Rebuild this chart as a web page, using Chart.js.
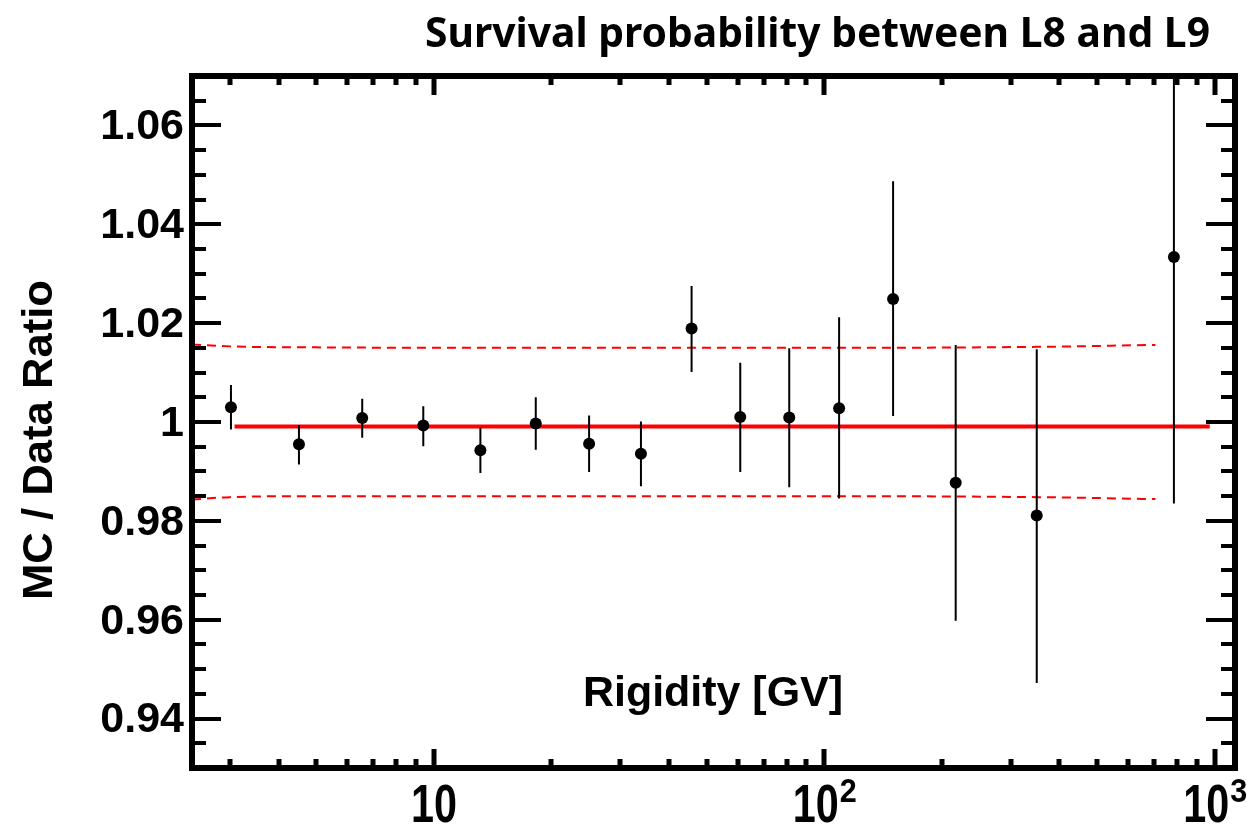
<!DOCTYPE html>
<html>
<head>
<meta charset="utf-8">
<script src="https://cdn.jsdelivr.net/npm/chart.js@4/dist/chart.umd.min.js"></script>
<style>
  html, body { margin: 0; padding: 0; background: #fff; }
  canvas { display: block; }
</style>
</head>
<body>
<canvas id="ratioChart" width="1247" height="831"></canvas>
<script>
// data
const rigidity = [3.02, 4.51, 6.55, 9.39, 13.15, 18.23, 24.97, 33.9, 45.7, 60.9, 81.3, 109.1, 150, 217, 350, 786];
const ratio    = [1.0030, 0.9955, 1.0008, 0.9993, 0.9943, 0.9997, 0.9956, 0.9936, 1.0189, 1.0010, 1.0009, 1.0028, 1.0249, 0.9877, 0.9811, 1.0334];
const errHigh  = [1.0075, 0.9994, 1.0047, 1.0032, 0.9989, 1.0050, 1.0013, 1.0001, 1.0275, 1.0120, 1.0149, 1.0212, 1.0487, 1.0156, 1.0147, 1.0833];
const errLow   = [0.9985, 0.9914, 0.9968, 0.9951, 0.9897, 0.9944, 0.9899, 0.9870, 1.0101, 0.9899, 0.9868, 0.9845, 1.0012, 0.9598, 0.9472, 0.9835];

// fit (solid) and +-1.5% band (dashed)
const fitX = [3.085, 971];
const fitY = [0.9991, 0.9991];
const bandX    = [2.4, 3.0, 5, 20, 100, 350, 705];
const bandHigh = [1.0157, 1.0153, 1.0151, 1.0150, 1.0150, 1.0152, 1.0156];
const bandLow  = [0.9843, 0.9848, 0.9850, 0.9850, 0.9850, 0.9848, 0.9844];

// axes
const xRange = [2.4, 1127];
const yRange = [0.93, 1.07];
const yTickValues = [0.94, 0.96, 0.98, 1, 1.02, 1.04, 1.06];
const yTickLabels = ['0.94', '0.96', '0.98', '1', '1.02', '1.04', '1.06'];
const xTickValues = [10, 100, 1000];
const xTickBase   = ['10', '10', '10'];
const xTickExp    = ['', '2', '3'];

const titleText = 'Survival probability between L8 and L9';
const xTitle = 'Rigidity [GV]';
const yTitle = 'MC / Data Ratio';

const pts = (xs, ys) => xs.map((x, i) => ({x: x, y: ys[i]}));

const errorSegments = [];
rigidity.forEach((x, i) => {
  errorSegments.push({x: x, y: errLow[i]});
  errorSegments.push({x: x, y: errHigh[i]});
  errorSegments.push({x: x, y: null});
});

const NARROW = '"Liberation Sans Narrow", "Liberation Sans", Arial, sans-serif';

// draw text squeezed/stretched to a given width
function fitText(ctx, text, x, y, font, width, align) {
  ctx.font = font;
  const w = ctx.measureText(text).width;
  ctx.save();
  ctx.translate(x, y);
  ctx.scale(width / w, 1);
  ctx.textAlign = align;
  ctx.textBaseline = 'alphabetic';
  ctx.fillText(text, 0, 0);
  ctx.restore();
}

// ROOT style frame with inner ticks on all four sides
const framePlugin = {
  id: 'frame',
  beforeDraw(chart) {
    const ctx = chart.ctx;
    ctx.save();
    ctx.fillStyle = '#fff';
    ctx.fillRect(0, 0, chart.width, chart.height);
    ctx.restore();
  },
  afterDraw(chart) {
    const ctx = chart.ctx;
    const a = chart.chartArea;
    const xs = chart.scales.x, ys = chart.scales.y;
    ctx.save();
    ctx.strokeStyle = '#000';
    ctx.fillStyle = '#000';

    // x ticks (bottom + top)
    ctx.lineWidth = 5;
    ctx.beginPath();
    for (let d = 1; d <= 1000; d *= 10) {
      for (let k = 1; k <= 9; k++) {
        const v = k * d;
        if (v < xRange[0] || v > xRange[1]) continue;
        const px = Math.round(xs.getPixelForValue(v));
        const len = k === 1 ? 19 : 9;
        ctx.moveTo(px, a.bottom); ctx.lineTo(px, a.bottom - len);
        ctx.moveTo(px, a.top); ctx.lineTo(px, a.top + len);
      }
    }
    ctx.stroke();

    // y ticks (left + right)
    ctx.lineWidth = 4;
    ctx.beginPath();
    for (let n = 187; n <= 213; n++) {
      const v = n * 0.005;
      if (v < yRange[0] + 1e-6 || v > yRange[1] - 1e-6) continue;
      const py = Math.round(ys.getPixelForValue(v));
      const major = n % 4 === 0;
      const len = major ? 29 : 14;
      ctx.moveTo(a.left, py); ctx.lineTo(a.left + len, py);
      ctx.moveTo(a.right, py); ctx.lineTo(a.right - len, py);
    }
    ctx.stroke();

    // frame
    ctx.lineWidth = 6;
    ctx.strokeRect(a.left, a.top, a.right - a.left, a.bottom - a.top);

    // y tick labels
    ctx.font = 'bold 43px "Liberation Sans", Arial, sans-serif';
    ctx.textAlign = 'right';
    ctx.textBaseline = 'middle';
    yTickValues.forEach((v, i) => {
      ctx.fillText(yTickLabels[i], 184, ys.getPixelForValue(v) + 2);
    });

    // x tick labels: base "10" and superscript exponent, centred on the tick
    xTickValues.forEach((v, i) => {
      const px = xs.getPixelForValue(v);
      const baseW = 46, expW = xTickExp[i] ? 17 : 0;
      const left = px - (baseW + expW) / 2;
      fitText(ctx, xTickBase[i], left, 822, 'bold 53px ' + NARROW, baseW, 'left');
      if (xTickExp[i]) {
        fitText(ctx, xTickExp[i], left + baseW + 1, 802, 'bold 33px ' + NARROW, expW, 'left');
      }
    });

    // titles
    fitText(ctx, titleText, 425, 47, 'bold 41px "Noto Sans", "Open Sans", sans-serif', 785, 'left');
    fitText(ctx, xTitle, 583, 706, 'bold 43px ' + NARROW, 260, 'left');
    ctx.save();
    ctx.translate(52, 440);
    ctx.rotate(-Math.PI / 2);
    fitText(ctx, yTitle, 0, 0, 'bold 43px ' + NARROW, 320, 'center');
    ctx.restore();

    ctx.restore();
  }
};

new Chart(document.getElementById('ratioChart'), {
  type: 'scatter',
  data: {
    datasets: [
      {
        label: 'ratio',
        data: pts(rigidity, ratio),
        pointRadius: 6,
        pointBackgroundColor: '#000',
        pointBorderWidth: 0,
        showLine: false,
        order: 0
      },
      {
        label: 'errors',
        data: errorSegments,
        showLine: true,
        spanGaps: false,
        borderColor: '#000',
        borderWidth: 2,
        pointRadius: 0,
        order: 1
      },
      {
        label: 'fit',
        data: pts(fitX, fitY),
        showLine: true,
        borderColor: '#ff0000',
        borderWidth: 4,
        pointRadius: 0,
        order: 2
      },
      {
        label: 'band high',
        data: pts(bandX, bandHigh),
        showLine: true,
        borderColor: '#ff0000',
        borderWidth: 2,
        borderDash: [9, 6],
        cubicInterpolationMode: 'monotone',
        pointRadius: 0,
        order: 3
      },
      {
        label: 'band low',
        data: pts(bandX, bandLow),
        showLine: true,
        borderColor: '#ff0000',
        borderWidth: 2,
        borderDash: [9, 6],
        cubicInterpolationMode: 'monotone',
        pointRadius: 0,
        order: 3
      }
    ]
  },
  options: {
    responsive: false,
    animation: false,
    devicePixelRatio: 1,
    layout: { padding: { left: 192, right: 12, top: 76, bottom: 63 } },
    plugins: { legend: { display: false }, tooltip: { enabled: false } },
    scales: {
      x: { type: 'logarithmic', min: xRange[0], max: xRange[1], display: false },
      y: { type: 'linear', min: yRange[0], max: yRange[1], display: false }
    }
  },
  plugins: [framePlugin]
});
</script>
</body>
</html>
